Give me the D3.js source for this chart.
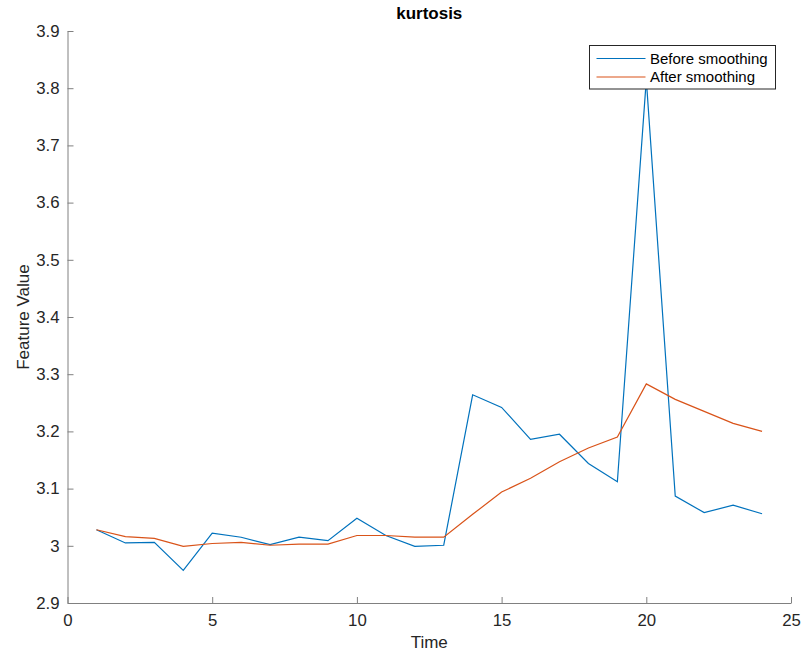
<!DOCTYPE html>
<html>
<head>
<meta charset="utf-8">
<script src="https://cdn.jsdelivr.net/npm/d3@7"></script>
<style>
  html, body { margin: 0; padding: 0; background: #fff; }
  svg { display: block; font-family: "Liberation Sans", Arial, Helvetica, sans-serif; }
</style>
</head>
<body>
<svg id="chart" width="802" height="653"></svg>
<script>
const timeSteps = d3.range(1, 25);
const beforeSmoothing = [3.028, 3.005, 3.006, 2.957, 3.022, 3.015, 3.002, 3.015, 3.009, 3.048,
  3.018, 2.999, 3.001, 3.264, 3.242, 3.186, 3.195, 3.144, 3.112, 3.815,
  3.087, 3.058, 3.071, 3.056];
const afterSmoothing = [3.028, 3.016, 3.013, 2.999, 3.004, 3.006, 3.001, 3.003, 3.003, 3.018,
  3.018, 3.015, 3.015, 3.055, 3.094, 3.118, 3.147, 3.171, 3.190, 3.283,
  3.256, 3.235, 3.214, 3.200];
const xTicks = [0, 5, 10, 15, 20, 25];
const yTicks = [2.9, 3, 3.1, 3.2, 3.3, 3.4, 3.5, 3.6, 3.7, 3.8, 3.9];
const seriesNames = ['Before smoothing', 'After smoothing'];
const seriesColors = ['#0072BD', '#D95319'];

const svg = d3.select('#chart');
const plotL = 67.5, plotR = 791, plotT = 31, plotB = 603;

const x = d3.scaleLinear().domain([0, 25]).range([plotL, plotR]);
const y = d3.scaleLinear().domain([2.9, 3.9]).range([plotB, plotT]);

const axisColor = '#808080';
const textColor = '#262626';

// x axis, ticks pointing inward
const gx = svg.append('g')
  .attr('transform', `translate(0,${plotB})`)
  .call(d3.axisBottom(x).tickValues(xTicks).tickSizeInner(-6).tickSizeOuter(0).tickPadding(11)
    .tickFormat(d3.format('d')));
gx.select('.domain').attr('stroke', axisColor);
gx.selectAll('.tick line').attr('stroke', axisColor);
gx.selectAll('.tick text').attr('fill', textColor).attr('font-size', 16.8).attr('font-family', null);

const gy = svg.append('g')
  .attr('transform', `translate(${plotL},0)`)
  .call(d3.axisLeft(y).tickValues(yTicks).tickSizeInner(-6).tickSizeOuter(0).tickPadding(8)
    .tickFormat(d => d3.format('~g')(d)));
gy.select('.domain').attr('stroke', axisColor);
gy.selectAll('.tick line').attr('stroke', axisColor);
gy.selectAll('.tick text').attr('fill', textColor).attr('font-size', 16.8).attr('font-family', null);

// axis titles
svg.append('text')
  .attr('x', (plotL + plotR) / 2).attr('y', 648)
  .attr('text-anchor', 'middle')
  .attr('fill', textColor).attr('font-size', 17)
  .text('Time');

svg.append('text')
  .attr('transform', `translate(29,${(plotT + plotB) / 2}) rotate(-90)`)
  .attr('text-anchor', 'middle')
  .attr('fill', textColor).attr('font-size', 17)
  .text('Feature Value');

svg.append('text')
  .attr('x', (plotL + plotR) / 2).attr('y', 19)
  .attr('text-anchor', 'middle')
  .attr('font-weight', 'bold').attr('font-size', 17)
  .attr('fill', '#000')
  .text('kurtosis');

// lines
const line = d3.line().x((d, i) => x(timeSteps[i])).y(d => y(d));
[beforeSmoothing, afterSmoothing].forEach((vals, k) => {
  svg.append('path')
    .datum(vals)
    .attr('fill', 'none')
    .attr('stroke', seriesColors[k])
    .attr('stroke-width', 1.2)
    .attr('d', line);
});

// legend (opaque, sits over the peak)
const lg = svg.append('g').attr('transform', 'translate(589.5,45.5)');
lg.append('rect')
  .attr('width', 186).attr('height', 43.5)
  .attr('fill', '#fff').attr('stroke', textColor).attr('stroke-width', 1);
seriesNames.forEach((name, i) => {
  const cy = 13 + i * 18.5;
  lg.append('line')
    .attr('x1', 7).attr('x2', 56).attr('y1', cy).attr('y2', cy)
    .attr('stroke', seriesColors[i]).attr('stroke-width', 1.2);
  lg.append('text')
    .attr('x', 60.5).attr('y', cy).attr('dy', '0.35em')
    .attr('fill', '#000').attr('font-size', 15)
    .text(name);
});
</script>
</body>
</html>
